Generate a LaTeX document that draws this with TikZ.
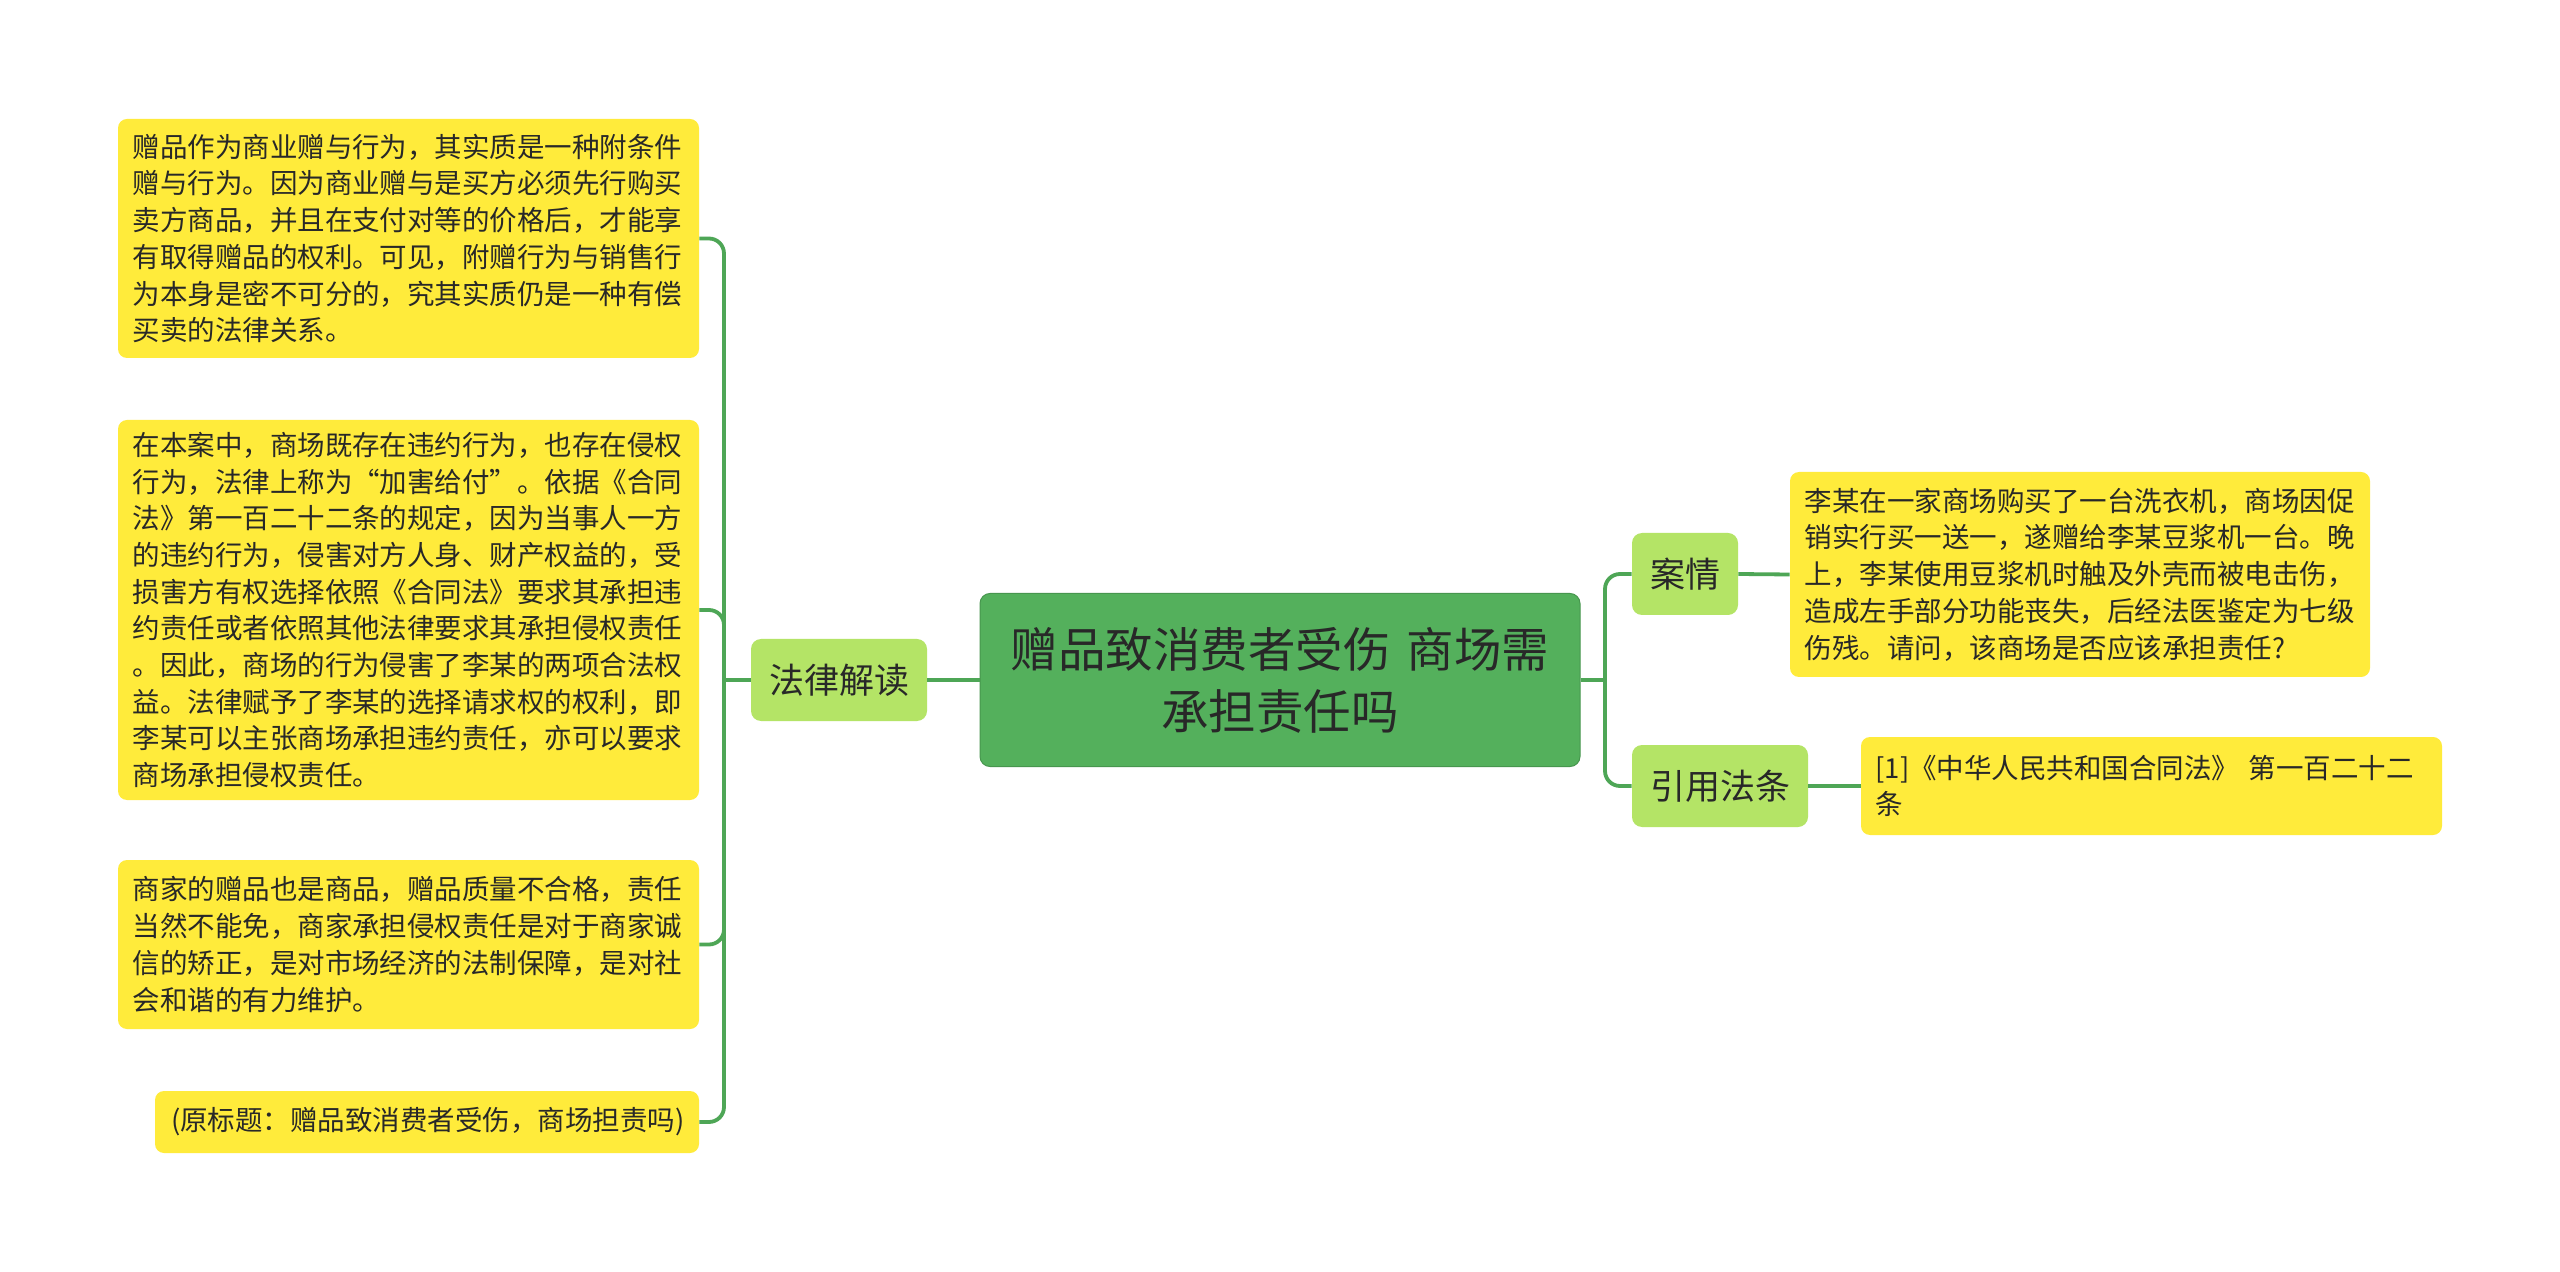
\documentclass[tikz,border=0pt]{standalone}
\usepackage{fontspec}
\setmainfont{Noto Sans CJK SC}
\begin{document}
\begin{tikzpicture}[x=0.5pt,y=-0.5pt]
\definecolor{leafyellow}{RGB}{255,235,59}
\definecolor{lvlgreen}{RGB}{180,228,102}
\definecolor{rootgreen}{RGB}{84,176,92}
\definecolor{conngreen}{RGB}{78,166,86}
\definecolor{txt}{RGB}{40,40,40}
\tikzset{
  leaf/.style={fill=leafyellow, rounded corners=4.5pt, text=txt,
    font=\fontsize{13.75pt}{18.35pt}\selectfont, align=left,
    text width=276pt, inner xsep=7.25pt, inner ysep=0pt, anchor=center},
  lvl/.style={fill=lvlgreen, rounded corners=5pt, text=txt,
    font=\fontsize{17.5pt}{21pt}\selectfont, inner sep=0pt,
    minimum height=41pt, anchor=center},
  rootbox/.style={fill=rootgreen, draw=rootgreen!85!black, line width=0.5pt, rounded corners=5pt, text=txt,
    font=\fontsize{23.75pt}{31pt}\selectfont, align=center,
    text width=284pt, inner xsep=8pt, inner ysep=0pt,
    minimum height=86.5pt, anchor=center},
  conn/.style={draw=conngreen, line width=1.9pt, rounded corners=7.5pt}
}
\useasboundingbox (0,0) rectangle (2560,1272);
\fill[white] (0,0) rectangle (2560,1272);

% root
\node[rootbox] (root) at (1280,680) {赠品致消费者受伤 商场需\\承担责任吗};

% level 1
\node[lvl, minimum width=88pt] (law) at (839,680) {法律解读};
\node[lvl, minimum width=53pt] (case) at (1685,574) {案情};
\node[lvl, minimum width=88pt] (cite) at (1720,786) {引用法条};

% left leaves
\node[leaf, minimum height=119.5pt] (b1) at (408.5,238.5) {赠品作为商业赠与行为，其实质是一种附条件\\赠与行为。因为商业赠与是买方必须先行购买\\卖方商品，并且在支付对等的价格后，才能享\\有取得赠品的权利。可见，附赠行为与销售行\\为本身是密不可分的，究其实质仍是一种有偿\\买卖的法律关系。};
\node[leaf, minimum height=190pt] (b2) at (408.5,610) {在本案中，商场既存在违约行为，也存在侵权\\行为，法律上称为“加害给付”。依据《合同\\法》第一百二十二条的规定，因为当事人一方\\的违约行为，侵害对方人身、财产权益的，受\\损害方有权选择依照《合同法》要求其承担违\\约责任或者依照其他法律要求其承担侵权责任\\。因此，商场的行为侵害了李某的两项合法权\\益。法律赋予了李某的选择请求权的权利，即\\李某可以主张商场承担违约责任，亦可以要求\\商场承担侵权责任。};
\node[leaf, minimum height=84.5pt] (b3) at (408.5,944.5) {商家的赠品也是商品，赠品质量不合格，责任\\当然不能免，商家承担侵权责任是对于商家诚\\信的矫正，是对市场经济的法制保障，是对社\\会和谐的有力维护。};
\node[leaf, text width=256pt, inner xsep=8pt, align=right, minimum height=31pt] (b4) at (427,1122) {(原标题：赠品致消费者受伤，商场担责吗)};

% right leaves
\node[leaf, text width=275.5pt, minimum height=102.5pt] (ctext) at (2080,574.5) {李某在一家商场购买了一台洗衣机，商场因促\\销实行买一送一，遂赠给李某豆浆机一台。晚\\上，李某使用豆浆机时触及外壳而被电击伤，\\造成左手部分功能丧失，后经法医鉴定为七级\\伤残。请问，该商场是否应该承担责任?};
\node[leaf, text width=276pt, minimum height=49pt] (ltext) at (2151.5,786) {[1]《中华人民共和国合同法》 第一百二十二\\条};

% connectors
\coordinate (lt) at (724,680);
\coordinate (rt) at (1605,680);
\draw[conn] (root.west) -- (law.east);
\draw[conn] (law.west) -- (lt);
\draw[conn] (lt) |- (b1.east);
\draw[conn] (lt) |- (b2.east);
\draw[conn] (lt) |- (b3.east);
\draw[conn] (lt) |- (b4.east);
\draw[conn] (root.east) -- (rt);
\draw[conn] (rt) |- (case.west);
\draw[conn] (rt) |- (cite.west);
\draw[conn] (case.east) -- (ctext.west);
\draw[conn] (cite.east) -- (ltext.west);
\end{tikzpicture}
\end{document}
